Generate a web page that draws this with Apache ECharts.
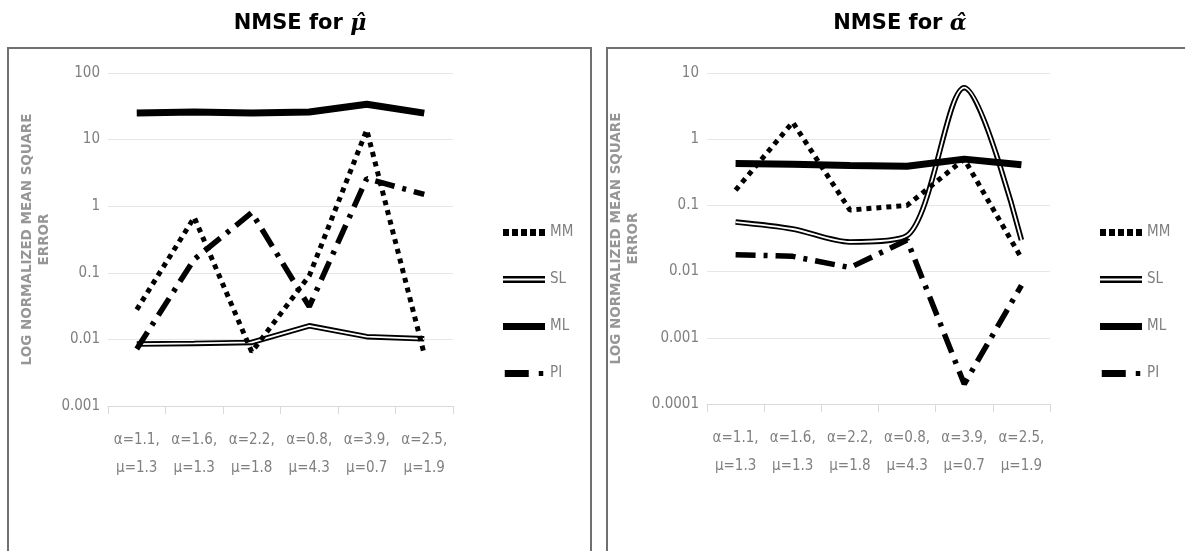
<!DOCTYPE html>
<html>
<head>
<meta charset="utf-8">
<script src="https://cdn.jsdelivr.net/npm/echarts@6/dist/echarts.min.js"></script>
<style>
  html, body { margin: 0; padding: 0; background: #fff; }
  #main { width: 1185px; height: 551px; }
</style>
</head>
<body>
<div id="main"></div>
<script>
  // x categories (same for both panels)
  var categories = [
    'α=1.1,\nμ=1.3', 'α=1.6,\nμ=1.3', 'α=2.2,\nμ=1.8',
    'α=0.8,\nμ=4.3', 'α=3.9,\nμ=0.7', 'α=2.5,\nμ=1.9'
  ];

  // NMSE for mu-hat (left panel)
  var muMM = [0.028, 0.68, 0.0065, 0.09, 14, 0.006];
  var muSL = [0.0085, 0.0087, 0.009, 0.016, 0.011, 0.0102];
  var muML = [25, 26, 25, 26, 34, 25];
  var muPI = [0.0072, 0.16, 0.8, 0.031, 2.6, 1.5];

  // NMSE for alpha-hat (right panel)
  var alMM = [0.17, 1.8, 0.085, 0.1, 0.5, 0.016];
  var alSL = [0.056, 0.044, 0.028, 0.035, 6.0, 0.03];
  var alML = [0.43, 0.42, 0.40, 0.39, 0.5, 0.41];
  var alPI = [0.018, 0.017, 0.0115, 0.03, 0.0002, 0.0062];

  var seriesNames = ['MM', 'SL', 'ML', 'PI'];

  var gray = '#7f7f7f';
  var narrow = "'Liberation Sans Narrow', 'DejaVu Sans Condensed', 'Liberation Sans', sans-serif";

  // legend icons, 42 x 7
  var icons = {
    MM: 'path://M0 0h6v7h-6z M9 0h6v7h-6z M18 0h6v7h-6z M27 0h6v7h-6z M36 0h6v7h-6z',
    SL: 'path://M0 0h42v2.5h-42z M0 4.5h42v2.5h-42z',
    ML: 'path://M0 0h42v7h-42z',
    PI: 'path://M0 0h24v7h-24z M34 1h4.5v5h-4.5z'
  };

  function buildSeries(idx, mm, sl, ml, pi, slSmooth) {
    var base = { type: 'line', xAxisIndex: idx, yAxisIndex: idx, symbol: 'none', silent: true };
    return [
      Object.assign({}, base, { name: 'SL', data: sl, smooth: slSmooth,
        lineStyle: { color: '#000', width: 5.5 }, itemStyle: { color: '#000' } }),
      Object.assign({}, base, { name: 'SL-inner', data: sl, smooth: slSmooth,
        lineStyle: { color: '#fff', width: 1.8 }, itemStyle: { color: '#fff' } }),
      Object.assign({}, base, { name: 'MM', data: mm,
        lineStyle: { color: '#000', width: 5, type: [5, 5], cap: 'butt' }, itemStyle: { color: '#000' } }),
      Object.assign({}, base, { name: 'ML', data: ml,
        lineStyle: { color: '#000', width: 7 }, itemStyle: { color: '#000' } }),
      Object.assign({}, base, { name: 'PI', data: pi,
        lineStyle: { color: '#000', width: 5.5, type: [20, 8, 4, 8], cap: 'butt' }, itemStyle: { color: '#000' } })
    ];
  }

  function xAxisFor(idx) {
    return {
      type: 'category', gridIndex: idx, data: categories, boundaryGap: true,
      axisLine: { lineStyle: { color: '#d9d9d9', width: 1 } },
      axisTick: { show: true, length: 8, lineStyle: { color: '#d9d9d9' } },
      axisLabel: { interval: 0, margin: 20, color: gray, fontSize: 15, lineHeight: 28, fontFamily: narrow }
    };
  }

  function yAxisFor(idx, min, max, gap) {
    return {
      type: 'log', logBase: 10, gridIndex: idx, min: min, max: max,
      name: 'LOG NORMALIZED MEAN SQUARE\nERROR',
      nameLocation: 'middle', nameGap: gap, nameRotate: 90,
      nameTextStyle: { color: '#969696', fontWeight: 'bold', fontSize: 13.5, lineHeight: 17, fontFamily: 'DejaVu Sans' },
      axisLine: { show: false }, axisTick: { show: false },
      splitLine: { lineStyle: { color: '#e6e6e6', width: 1 } },
      axisLabel: {
        margin: 8, color: gray, fontSize: 15, fontFamily: narrow,
        formatter: function (v) { return String(+(+v).toPrecision(1)); }
      }
    };
  }

  function titleFor(x, sym) {
    return {
      text: '{b|NMSE for }{m|' + sym + '}',
      left: x, top: 13, padding: 0, textAlign: 'center',
      textStyle: {
        rich: {
          b: { fontFamily: 'DejaVu Sans', fontWeight: 'bold', fontSize: 21, color: '#000' },
          m: { fontFamily: 'DejaVu Serif', fontStyle: 'italic', fontSize: 22, color: '#000' }
        }
      }
    };
  }

  function legendFor(x) {
    return {
      orient: 'vertical', left: x, top: 225, padding: 0,
      itemWidth: 42, itemHeight: 7, itemGap: 32,
      selectedMode: false,
      itemStyle: { borderWidth: 0 },
      textStyle: { color: gray, fontSize: 15, lineHeight: 14, fontFamily: narrow },
      data: seriesNames.map(function (n) { return { name: n, icon: icons[n] }; })
    };
  }

  var myChart = echarts.init(document.getElementById('main'), null, { renderer: 'canvas' });

  var option = {
    animation: false,
    backgroundColor: '#fff',
    title: [titleFor(300, 'μ\u0302'), titleFor(900, 'α\u0302')],
    graphic: [
      { type: 'rect', shape: { x: 8, y: 48, width: 583, height: 530 },
        style: { fill: 'none', stroke: '#707070', lineWidth: 2 }, silent: true },
      { type: 'rect', shape: { x: 607, y: 48, width: 600, height: 530 },
        style: { fill: 'none', stroke: '#707070', lineWidth: 2 }, silent: true }
    ],
    legend: [legendFor(503), legendFor(1100)],
    grid: [
      { left: 108, top: 73, width: 345, height: 333 },
      { left: 707, top: 73, width: 343, height: 331 }
    ],
    xAxis: [xAxisFor(0), xAxisFor(1)],
    yAxis: [yAxisFor(0, 0.001, 100, 55), yAxisFor(1, 0.0001, 10, 65)],
    series: buildSeries(0, muMM, muSL, muML, muPI, false)
      .concat(buildSeries(1, alMM, alSL, alML, alPI, 0.3))
  };

  myChart.setOption(option);

  window.addEventListener('resize', function () {
    myChart.resize();
  });
</script>
</body>
</html>
